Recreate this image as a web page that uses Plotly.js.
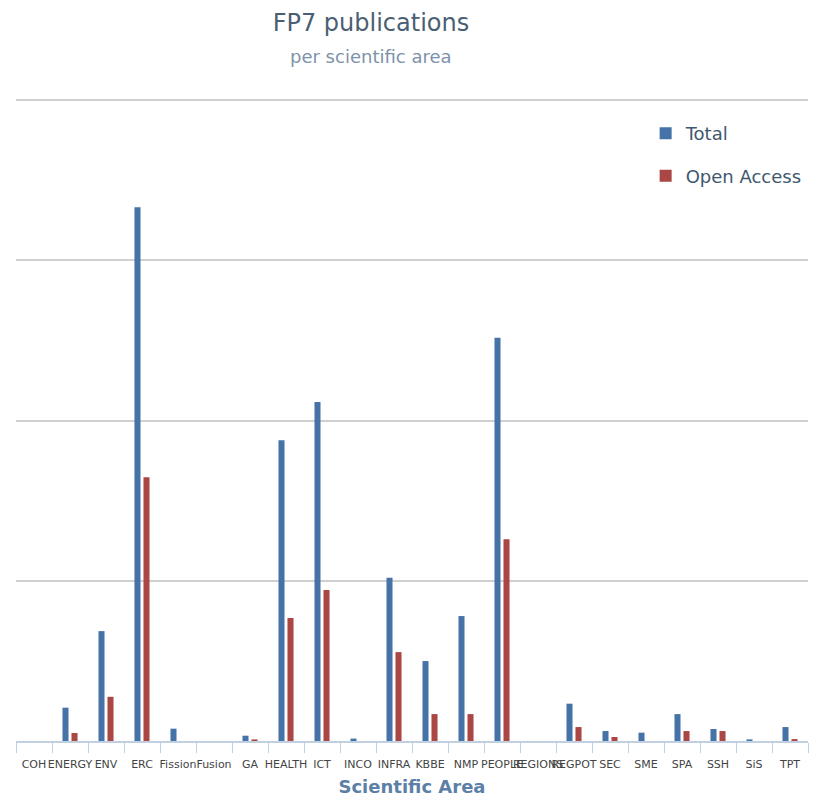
<!DOCTYPE html>
<html>
<head>
<meta charset="utf-8">
<script src="https://cdn.plot.ly/plotly-3.0.1.min.js"></script>
<style>html,body{margin:0;padding:0;background:#fff;}#chart{width:817px;height:798px;}</style>
</head>
<body>
<div id="chart"></div>
<script>
var categories = ["COH","ENERGY","ENV","ERC","Fission","Fusion","GA","HEALTH","ICT","INCO","INFRA","KBBE","NMP","PEOPLE","REGIONS","REGPOT","SEC","SME","SPA","SSH","SiS","TPT"];
var totalPubs = [0, 208, 686, 3332, 77, 0, 33, 1878, 2117, 15, 1019, 499, 780, 2517, 0, 233, 62, 52, 168, 75, 10, 87];
var openAccess = [0, 50, 276, 1647, 0, 0, 10, 768, 942, 0, 555, 168, 168, 1260, 0, 87, 25, 0, 62, 62, 0, 12];
var gridValues = [0, 1000, 2000, 3000, 4000];

var traces = [
  {type: "bar", name: "Total", x: categories, y: totalPubs,
   marker: {color: "#4572A7"}, legendgroup: "a"},
  {type: "bar", name: "Open Access", x: categories, y: openAccess,
   marker: {color: "#AA4643"}, legendgroup: "b"}
];

var layout = {
  width: 817, height: 798,
  margin: {l: 16, r: 9, t: 99, b: 57, autoexpand: false},
  paper_bgcolor: "#ffffff", plot_bgcolor: "#ffffff",
  font: {family: "DejaVu Sans", color: "#4d4d4d"},
  barmode: "group", bargap: 0.5, bargroupgap: 0.33,
  title: {
    text: "FP7 publications",
    font: {family: "DejaVu Sans", size: 24, color: "#4a5f73"},
    xref: "container", x: 0.454, xanchor: "center",
    yref: "container", y: 0.972, yanchor: "middle"
  },
  annotations: [{
    text: "per scientific area", showarrow: false,
    xref: "paper", x: 0.448, xanchor: "center",
    yref: "paper", y: 1.0655, yanchor: "middle",
    font: {family: "DejaVu Sans", size: 18, color: "#7d93aa"}
  }],
  showlegend: true,
  legend: {
    x: 0.795, xanchor: "left", y: 0.975, yanchor: "top",
    font: {family: "DejaVu Sans", size: 18, color: "#3E576F"},
    tracegroupgap: 16, bgcolor: "rgba(0,0,0,0)", itemclick: false
  },
  xaxis: {
    type: "category", tickson: "boundaries", ticks: "outside",
    ticklen: 10, tickcolor: "#C0D0E0", tickwidth: 1,
    showline: true, linecolor: "#C0D0E0", linewidth: 2,
    showgrid: false, tickangle: 0, ticklabelstandoff: 12,
    tickfont: {family: "DejaVu Sans", size: 11, color: "#444444"},
    title: {text: "Scientific Area", standoff: 10,
      font: {family: "DejaVu Sans", size: 18, color: "#5b7fa6", weight: "bold"}}
  },
  yaxis: {
    range: [0, 4008], tickvals: gridValues, showticklabels: false,
    showgrid: true, gridcolor: "#d0d0d0", gridwidth: 2,
    zeroline: false, fixedrange: true
  }
};

Plotly.newPlot("chart", traces, layout, {displayModeBar: false, staticPlot: true});
</script>
</body>
</html>
